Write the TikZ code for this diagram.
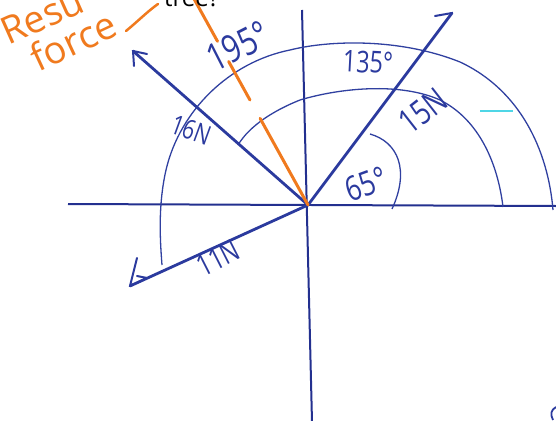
\documentclass[tikz,border=0pt]{standalone}
\usepackage{fontspec}
\setmainfont{Open Sans}
\definecolor{pen}{HTML}{2B3A9E}
\definecolor{axisc}{HTML}{23308F}
\definecolor{arcc}{HTML}{3040A0}
\definecolor{orng}{HTML}{F07A1E}
\definecolor{cyanc}{HTML}{4FD6E6}
\newcommand{\hwtext}[1]{\scalebox{0.78}[1]{#1}}
\begin{document}
\begin{tikzpicture}[x=1pt,y=-1pt,
  axisline/.style={draw=axisc,line width=2pt},
  vec/.style={draw=pen,line width=2.8pt,line cap=round},
  tipline/.style={draw=pen,line width=2pt,line cap=round,line join=round},
  arcline/.style={draw=arcc,line width=1.3pt},
  lbl/.style={text=pen,inner sep=0pt,font=\fontsize{30}{30}\selectfont},
  olbl/.style={text=orng,inner sep=0pt,font=\fontsize{38}{38}\selectfont}]
\useasboundingbox (0,0) rectangle (556,420);
\clip (0,0) rectangle (556,420);
% points
\coordinate (O) at (308,205);
\coordinate (xl) at (68,204);
\coordinate (xr) at (556,206);
\coordinate (yt) at (302,10);
\coordinate (yb) at (312,422);
\coordinate (t15) at (452,13);
\coordinate (t16) at (133,51);
\coordinate (t11) at (130,286);
\coordinate (rtop) at (193,-3);
% axes
\draw[axisline] (xl) -- (xr);
\draw[axisline] (yt) -- (yb);
% outer arc
\draw[arcline] (553,210) .. controls (548,150) and (520,90) .. (460,62)
  .. controls (400,38) and (330,40) .. (290,50)
  .. controls (230,62) and (180,110) .. (166,170)
  .. controls (158,205) and (160,240) .. (162,265);
% inner arc
\draw[arcline] (503,207) .. controls (498,165) and (480,120) .. (440,100)
  .. controls (400,82) and (340,88) .. (300,100)
  .. controls (275,110) and (250,125) .. (238,145);
% 65 arc
\draw[arcline] (370,134) .. controls (398,142) and (410,170) .. (392,209);
% vectors
\draw[vec] (O) -- (t15);
\draw[vec] (O) -- (t16);
\draw[vec] (O) -- (t11);
% arrow tips
\draw[tipline] (435,16) -- (t15);
\draw[tipline] (134,66) -- (t16) -- (147,54);
\draw[tipline] (137,258) -- (t11) -- (147,278) -- (137,276);
% resultant (orange dashed)
\draw[draw=orng,line width=3pt,line cap=round,dash pattern=on 99pt off 21pt on 44pt off 23pt on 80pt] (O) -- (rtop);
% cyan mark
\draw[draw=cyanc,line width=1.5pt] (480,111) -- (513,111);
% labels
\node[lbl,rotate=27,font=\fontsize{38}{38}\selectfont] (l195) at (238,46) {\hwtext{195°}};
\node[lbl,rotate=-3] (l135) at (368,62) {\hwtext{135°}};
\node[lbl,rotate=38,font=\fontsize{34}{34}\selectfont] (l15) at (423,111) {\hwtext{15N}};
\node[lbl,rotate=20,font=\fontsize{34}{34}\selectfont] (l65) at (366,184) {\hwtext{65°}};
\node[lbl,rotate=-20,font=\fontsize{27}{27}\selectfont] (l16) at (191,130) {\hwtext{16N}};
\node[lbl,rotate=27] (l11) at (218,258) {\hwtext{11N}};
% top text
\node[text=black,inner sep=0pt,anchor=base west,font=\fontsize{24}{24}\selectfont] (tree) at (164,7) {tree?};
\node[olbl,rotate=24,anchor=base west] (resu) at (8,46) {Resu};
\node[olbl,rotate=25,anchor=base west] (force) at (38,73) {force};
\draw[draw=orng,line width=2.5pt,line cap=round] (126,31) .. controls (137,22) and (148,11) .. (158,4);
% bottom right fragment
\draw[draw=pen,line width=1.8pt] (553,420) .. controls (550,414) and (551,410) .. (556,407);
\end{tikzpicture}
\end{document}
